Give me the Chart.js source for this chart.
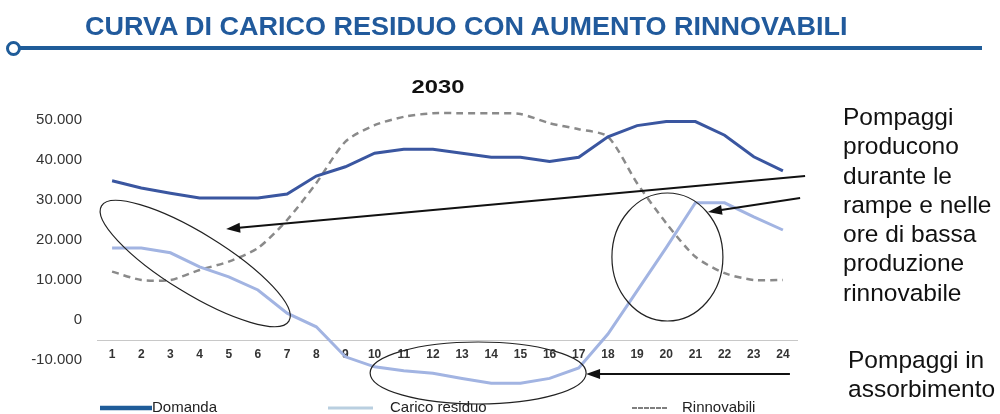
<!DOCTYPE html>
<html>
<head>
<meta charset="utf-8">
<script src="https://cdn.jsdelivr.net/npm/chart.js@4.4.1/dist/chart.umd.min.js"></script>
<style>
  body { margin: 0; background: #fff; font-family: Arial, "Liberation Sans", sans-serif; }
  #wrap { position: relative; width: 1000px; height: 414px; overflow: hidden; }
  #chart { position: absolute; left: 0; top: 0; }
  .head { position: absolute; left: 85px; top: 14px; font-size: 25px; line-height: 25px; font-weight: bold; color: #215a9c; white-space: nowrap; transform: scaleX(1.08); transform-origin: left center; }
  .rule { position: absolute; left: 18px; top: 46px; width: 964px; height: 4px; background: #1f5c99; }
  .dot { position: absolute; left: 6px; top: 41px; width: 9px; height: 9px; border: 3px solid #1f5c99; border-radius: 50%; background: #fff; }
  .year { position: absolute; left: 438px; top: 77px; font-size: 19px; line-height: 19px; font-weight: bold; color: #111; transform: translateX(-50%) scaleX(1.25); }
  .note { position: absolute; font-size: 24.5px; line-height: 29.3px; color: #111; white-space: nowrap; }
</style>
</head>
<body>
<div id="wrap">
  <canvas id="chart" width="1000" height="414"></canvas>
  <div class="head">CURVA DI CARICO RESIDUO CON AUMENTO RINNOVABILI</div>
  <div class="rule"></div>
  <div class="dot"></div>
  <div class="year">2030</div>
  <div class="note" style="left:843px; top:102px;">Pompaggi<br>producono<br>durante le<br>rampe e nelle<br>ore di bassa<br>produzione<br>rinnovabile</div>
  <div class="note" style="left:848px; top:345px;">Pompaggi in<br>assorbimento</div>
</div>
<script>
var hours = ['1', '2', '3', '4', '5', '6', '7', '8', '9', '10', '11', '12',
             '13', '14', '15', '16', '17', '18', '19', '20', '21', '22', '23', '24'];
var domanda = [34800, 33000, 31700, 30500, 30500, 30500, 31500, 36000, 38300, 41700, 42700, 42700,
               41700, 40700, 40700, 39600, 40700, 45800, 48600, 49600, 49600, 46200, 40800, 37300];
var caricoResiduo = [18000, 18000, 16800, 13300, 10800, 7500, 1700, -1700, -9200, -11700, -12700, -13300,
                     -14600, -15800, -15800, -14600, -12000, -3500, 7300, 18100, 29300, 29300, 25800, 22500];
var rinnovabili = [12100, 10000, 10000, 12500, 14600, 18000, 25000, 34200, 44600, 48700, 50800, 51700,
                   51700, 51700, 51500, 49200, 47700, 45800, 34200, 24200, 15800, 11700, 10000, 10000];
var yTicks = [-10000, 0, 10000, 20000, 30000, 40000, 50000];

// annotations in chart coordinates (hour, value)
var ellipses = [
    { hour: 3.85, value: 14125, rx: 110, ry: 30, rot: 31.6 },
    { hour: 13.55, value: -13250, rx: 108, ry: 31, rot: 0 },
    { hour: 20.04, value: 15750, rx: 55.5, ry: 64, rot: 0 }
];
var arrows = [
    { from: [24.76, 36000], to: [4.91, 22750] },
    { from: [24.59, 30500], to: [21.43, 27000] },
    { from: [24.24, -13500], to: [17.25, -13500] }
];

function fmt(v) {
    if (v === 0) return '0';
    var s = String(Math.abs(v)).replace(/\B(?=(\d{3})+(?!\d))/g, '.');
    return (v < 0 ? '-' : '') + s;
}

var annotate = {
    id: 'annotate',
    afterDatasetsDraw: function (chart) {
        var ctx = chart.ctx, xs = chart.scales.x, ys = chart.scales.y;
        var px = function (h) { return xs.getPixelForValue(h - 1); };
        var py = function (v) { return ys.getPixelForValue(v); };
        ctx.save();
        ctx.strokeStyle = '#222';
        ctx.lineWidth = 1.2;
        ellipses.forEach(function (e) {
            ctx.beginPath();
            ctx.ellipse(px(e.hour), py(e.value), e.rx, e.ry, e.rot * Math.PI / 180, 0, Math.PI * 2);
            ctx.stroke();
        });
        ctx.strokeStyle = '#111';
        ctx.fillStyle = '#111';
        ctx.lineWidth = 2;
        arrows.forEach(function (a) {
            var x0 = px(a.from[0]), y0 = py(a.from[1]);
            var x1 = px(a.to[0]), y1 = py(a.to[1]);
            var ang = Math.atan2(y1 - y0, x1 - x0);
            ctx.beginPath();
            ctx.moveTo(x0, y0);
            ctx.lineTo(x1 - 10 * Math.cos(ang), y1 - 10 * Math.sin(ang));
            ctx.stroke();
            ctx.beginPath();
            ctx.moveTo(x1, y1);
            ctx.lineTo(x1 - 14 * Math.cos(ang) + 5 * Math.sin(ang), y1 - 14 * Math.sin(ang) - 5 * Math.cos(ang));
            ctx.lineTo(x1 - 14 * Math.cos(ang) - 5 * Math.sin(ang), y1 - 14 * Math.sin(ang) + 5 * Math.cos(ang));
            ctx.closePath();
            ctx.fill();
        });
        ctx.restore();
    },
    afterDraw: function (chart) {
        // legend along the bottom edge
        var ctx = chart.ctx;
        var items = [
            { x0: 100, x1: 152, tx: 152, color: '#1f5c99', width: 4.5, dash: [] },
            { x0: 328, x1: 373, tx: 390, color: '#b9cfe0', width: 3, dash: [] },
            { x0: 632, x1: 667, tx: 682, color: '#555', width: 1.3, dash: [5, 1] }
        ];
        var y = 408;
        ctx.save();
        ctx.font = '15px Arial, "Liberation Sans", sans-serif';
        ctx.textBaseline = 'middle';
        ctx.fillStyle = '#222';
        items.forEach(function (it, i) {
            ctx.beginPath();
            ctx.setLineDash(it.dash);
            ctx.strokeStyle = it.color;
            ctx.lineWidth = it.width;
            ctx.moveTo(it.x0, y);
            ctx.lineTo(it.x1, y);
            ctx.stroke();
            ctx.fillText(chart.data.datasets[i].label, it.tx, y);
        });
        ctx.restore();
    }
};

new Chart(document.getElementById('chart'), {
    type: 'line',
    data: {
        labels: hours,
        datasets: [
            {
                label: 'Domanda',
                data: domanda,
                borderColor: '#3a56a0',
                borderWidth: 3,
                pointRadius: 0,
                tension: 0,
                clip: false
            },
            {
                label: 'Carico residuo',
                data: caricoResiduo,
                borderColor: '#a2b4e2',
                borderWidth: 3,
                pointRadius: 0,
                tension: 0,
                clip: false
            },
            {
                label: 'Rinnovabili',
                data: rinnovabili,
                borderColor: '#8a8a8a',
                borderWidth: 2.5,
                borderDash: [7, 5],
                pointRadius: 0,
                tension: 0.25,
                clip: false
            }
        ]
    },
    options: {
        responsive: false,
        animation: false,
        layout: { padding: { left: 0, right: 202.5, top: 120, bottom: 54 } },
        plugins: {
            legend: { display: false },
            tooltip: { enabled: false },
            title: { display: false }
        },
        scales: {
            x: {
                position: { y: -5000 },
                offset: true,
                grid: { display: false, drawTicks: false },
                border: { display: true, color: '#c8c8c8', width: 1 },
                ticks: {
                    padding: 7,
                    color: '#333',
                    font: { family: 'Arial, "Liberation Sans", sans-serif', size: 12, weight: 'bold' }
                }
            },
            y: {
                min: -10000,
                max: 50000,
                afterFit: function (scale) { scale.width = 97.5; },
                afterBuildTicks: function (scale) {
                    scale.ticks = yTicks.map(function (v) { return { value: v }; });
                },
                grid: { display: false, drawTicks: false },
                border: { display: false },
                ticks: {
                    padding: 15.5,
                    color: '#333',
                    font: { family: 'Arial, "Liberation Sans", sans-serif', size: 15 },
                    callback: function (v) { return fmt(v); }
                }
            }
        }
    },
    plugins: [annotate]
});
</script>
</body>
</html>
